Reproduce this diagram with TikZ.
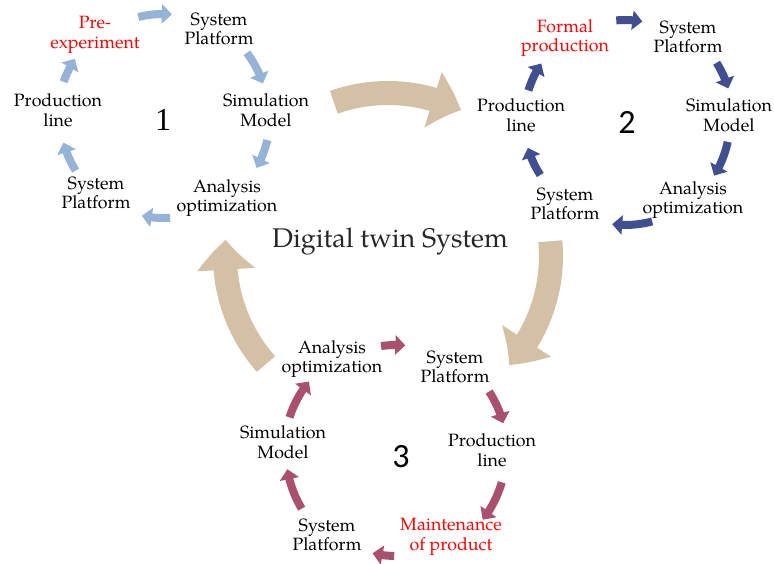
\documentclass[tikz,border=0pt]{standalone}
\usepackage{fontspec}
\setmainfont{TeX Gyre Pagella}
\newfontfamily\digitfont{Carlito}
\newfontfamily\seriffont{Liberation Serif}
\usetikzlibrary{arrows.meta,bending}

\definecolor{paleblue}{HTML}{95B3D7}
\definecolor{deepblue}{HTML}{3F4F8F}
\definecolor{mauve}{HTML}{A8506E}
\definecolor{sand}{HTML}{D3C0A5}

% arc arrow round a centre: style, centre, from angle, to angle, radius
\newcommand{\cyclearc}[5]{%
  \draw[#1] ([shift={(#3:#5)}]#2) arc[start angle=#3,end angle=#4,radius=#5];}

\begin{document}
\begin{tikzpicture}[
  x=1pt, y=1pt,
  txt/.style={align=center,inner sep=0pt,font=\fontsize{17.8}{19.5}\selectfont},
  hot/.style={txt,text=red},
  num/.style={inner sep=0pt,font=\seriffont\fontsize{32}{32}\selectfont},
  sansnum/.style={inner sep=0pt,font=\digitfont\fontsize{34}{34}\selectfont},
  small/.style={line width=8pt,-{Triangle[width=19pt,length=10pt]}},
  big/.style={line width=24pt,sand,-{Triangle[width=56pt,length=30pt,bend]}}
]
  \useasboundingbox (0,0) rectangle (774,-564);

  % centres of the three loops and of the outer loop
  \coordinate (c1) at (163,-116);
  \coordinate (c2) at (625,-120);
  \coordinate (c3) at (396,-452);
  \coordinate (cb) at (388,-256);

  % outer loop
  \cyclearc{big}{cb}{109.4}{63.4}{163}
  \cyclearc{big}{cb}{5.2}{-42}{163}
  \cyclearc{big}{cb}{221.5}{174.3}{163}
  \node[font=\fontsize{27}{30}\selectfont,text=black!85,inner sep=0pt] (title)
    at (390,-242) {Digital twin System};

  % loop 1
  \node[hot] (pre1) at (95,-35) {Pre-\\experiment};
  \node[txt] (sys1a) at (219,-29) {System\\Platform};
  \node[txt] (sim1) at (266,-110) {Simulation\\Model};
  \node[txt] (ana1) at (227,-198) {Analysis\\optimization};
  \node[txt] (sys1b) at (96,-193) {System\\Platform};
  \node[txt] (pro1) at (58,-110) {Production\\line};
  \node[num] (n1) at (163,-120) {1};
  \cyclearc{small,paleblue}{c1}{104}{85}{102}
  \cyclearc{small,paleblue}{c1}{37}{18}{105}
  \cyclearc{small,paleblue}{c1}{-13}{-29}{107}
  \cyclearc{small,paleblue}{c1}{-86}{-102}{102}
  \cyclearc{small,paleblue}{c1}{-148}{-165}{103}
  \cyclearc{small,paleblue}{c1}{161}{147}{105}

  % loop 2
  \node[hot] (for2) at (565,-38) {Formal\\production};
  \node[txt] (sys2a) at (688,-37) {System\\Platform};
  \node[txt] (sim2) at (729,-115) {Simulation\\Model};
  \node[txt] (ana2) at (693,-200) {Analysis\\optimization};
  \node[txt] (sys2b) at (565,-204) {System\\Platform};
  \node[txt] (pro2) at (521,-115) {Production\\line};
  \node[sansnum] (n2) at (627,-122) {2};
  \cyclearc{small,deepblue}{c2}{95}{80}{100}
  \cyclearc{small,deepblue}{c2}{32}{17}{108}
  \cyclearc{small,deepblue}{c2}{-12}{-32}{105}
  \cyclearc{small,deepblue}{c2}{-75}{-97}{105}
  \cyclearc{small,deepblue}{c2}{-147}{-164}{101}
  \cyclearc{small,deepblue}{c2}{163}{146}{101}

  % loop 3
  \node[txt] (ana3) at (332,-359) {Analysis\\optimization};
  \node[txt] (sys3a) at (455,-367) {System\\Platform};
  \node[txt] (pro3) at (492,-450) {Production\\line};
  \node[hot] (mai3) at (451,-537) {Maintenance\\of product};
  \node[txt] (sys3b) at (327,-535) {System\\Platform};
  \node[txt] (sim3) at (283,-442) {Simulation\\Model};
  \node[sansnum] (n3) at (401,-457) {3};
  \cyclearc{small,mauve}{c3}{98}{85}{107}
  \cyclearc{small,mauve}{c3}{33}{15}{111}
  \cyclearc{small,mauve}{c3}{-16}{-38}{110}
  \cyclearc{small,mauve}{c3}{-91}{-103}{104}
  \cyclearc{small,mauve}{c3}{-149}{-171}{110}
  \cyclearc{small,mauve}{c3}{162}{141}{112}
\end{tikzpicture}
\end{document}
